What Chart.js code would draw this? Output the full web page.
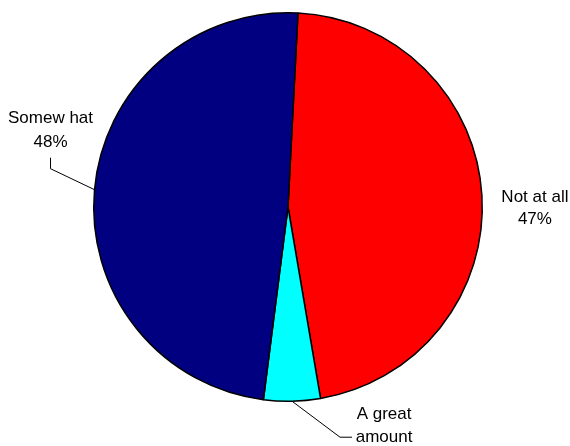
<!DOCTYPE html>
<html>
<head>
<meta charset="utf-8">
<script src="https://cdn.jsdelivr.net/npm/chart.js@4"></script>
<style>
  html, body { margin: 0; padding: 0; background: #fff; }
  #wrap { width: 570px; height: 446px; }
</style>
</head>
<body>
<div id="wrap"><canvas id="myChart" width="570" height="446"></canvas></div>
<script>
"use strict";

const categories = ["Not at all", "A great amount", "Somewhat"];
const shares = [46.5, 4.7, 48.8];
const shareLabels = ["47%", "5%", "48%"];
const colors = ["#FF0000", "#00FFFF", "#000080"];

// label text lines per slice, as printed on the original
const labelLines = [["Not at all", "47%"], ["A great", "amount"], ["Somew hat", "48%"]];

// where each label sits relative to the mid point of its arc
const labelSpots = [
	{ dx: 53, dy: 6, gap: 22, leader: null },
	{ dx: 92, dy: 18, gap: 23, leader: [[48, 36], [60, 36]] },
	{ dx: -44, dy: -67, gap: 24, leader: [[-44, -21], [-44, -32]] }
];

const pieLabels = {
	id: "pieLabels",
	afterDatasetsDraw(chart) {
		const ctx = chart.ctx;
		const meta = chart.getDatasetMeta(0);
		ctx.save();
		ctx.font = "17px 'Liberation Sans', Arial, sans-serif";
		ctx.fillStyle = "#000";
		ctx.strokeStyle = "#000";
		ctx.lineWidth = 1;
		ctx.textAlign = "center";
		ctx.textBaseline = "alphabetic";
		meta.data.forEach(function (arc, i) {
			const p = arc.getProps(["x", "y", "startAngle", "endAngle", "outerRadius"], true);
			const mid = (p.startAngle + p.endAngle) / 2;
			const ax = p.x + Math.cos(mid) * p.outerRadius;
			const ay = p.y + Math.sin(mid) * p.outerRadius;
			const spot = labelSpots[i];
			if (spot.leader) {
				ctx.beginPath();
				ctx.moveTo(ax, ay);
				spot.leader.forEach(function (pt) { ctx.lineTo(ax + pt[0], ay + pt[1]); });
				ctx.stroke();
			}
			const lines = labelLines[i];
			for (let k = 0; k < lines.length; k++) {
				ctx.fillText(lines[k], ax + spot.dx, ay + spot.dy + k * spot.gap);
			}
		});
		ctx.restore();
	}
};

new Chart(document.getElementById("myChart"), {
	type: "pie",
	data: {
		labels: categories,
		datasets: [{
			data: shares,
			backgroundColor: colors,
			borderColor: "#000",
			borderWidth: 1.5
		}]
	},
	options: {
		responsive: false,
		animation: false,
		rotation: 2.95,
		layout: { padding: { left: 93, right: 87, top: 12, bottom: 44 } },
		plugins: {
			legend: { display: false },
			tooltip: { enabled: false },
			title: { display: false }
		}
	},
	plugins: [pieLabels]
});
</script>
</body>
</html>
